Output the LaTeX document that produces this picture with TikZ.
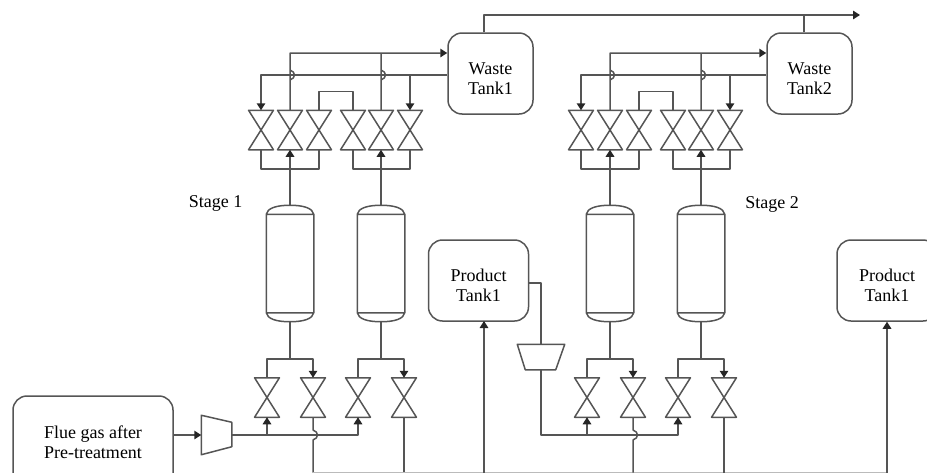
\documentclass[tikz,border=0pt]{standalone}
\usepackage{fontspec}
\setmainfont{Liberation Serif}
\usetikzlibrary{arrows.meta}
\definecolor{PipeColor}{RGB}{85,85,85}
\newcommand{\hopv}[1]{-- ([yshift=5pt]#1) .. controls ([xshift=6pt,yshift=3pt]#1) and ([xshift=6pt,yshift=-3pt]#1) .. ([yshift=-5pt]#1)}
\newcommand{\lowtext}{\rule{0pt}{22pt}}
\begin{document}
\begin{tikzpicture}[x=1pt,y=-1pt,line width=1.5pt,
pipe/.style={draw=PipeColor,line join=round},
flow/.style={pipe,-{Triangle[length=7pt,width=8.5pt,color=black!85]}},
tank/.style={draw=PipeColor,rectangle,rounded corners=14pt,align=center,inner sep=0pt,font=\fontsize{18}{20}\selectfont,text=black},
valve/.style={rectangle,inner sep=0pt,minimum width=23.4pt,minimum height=38pt},
vessel/.style={rectangle,inner sep=0pt,minimum width=46pt,minimum height=115pt},
lbl/.style={font=\fontsize{18}{20}\selectfont,text=black}]
\useasboundingbox (0,0) rectangle (927,472);
% tanks
\node[tank,minimum width=85pt,minimum height=81pt](waste1) at(490.5,73.5) {\lowtext Waste\\Tank1};
\node[tank,minimum width=85pt,minimum height=81pt](waste2) at(809.5,73.5) {\lowtext Waste\\Tank2};
\node[tank,minimum width=100pt,minimum height=81pt](prod1) at(478.5,280.5) {\lowtext Product\\Tank1};
\node[tank,minimum width=100pt,minimum height=81pt](prod2) at(887,280.5) {\lowtext Product\\Tank1};
\node[tank,minimum width=160pt,minimum height=92pt](flue) at(93,442) {Flue gas after\\Pre-treatment};
\node[lbl](stage1) at(215.5,203) {Stage 1};
\node[lbl](stage2) at(772,204) {Stage 2};
% valves
\foreach \n/\x/\y in %
{a/261/130,b/290/130,c/319/130,d/353/130,e/381/130,f/410/130,
g/581/130,h/610/130,i/639/130,j/673/130,k/701/130,l/730/130,
m/267/397.5,n/313/397.5,o/358/397.5,p/404/397.5,
q/587/397.5,r/633/397.5,s/678/397.5,t/724/397.5} {
   \node[valve](v\n) at(\x,\y) {};
   \draw[pipe] (v\n.north west) -- (v\n.south east) -- (v\n.south west) -- (v\n.north east) -- cycle;
}
% vessels
\foreach \n/\x in {1/290,2/381,3/610,4/701} {
   \node[vessel](ves\n) at(\x,263.5) {};
   \draw[pipe] ([yshift=-9pt]ves\n.north west) -- ([yshift=9pt]ves\n.south west)
      .. controls ([xshift=1pt,yshift=3pt]ves\n.south west) and ([xshift=10pt]ves\n.south west) .. (ves\n.south)
      .. controls ([xshift=-10pt]ves\n.south east) and ([xshift=-1pt,yshift=3pt]ves\n.south east) .. ([yshift=9pt]ves\n.south east)
      -- ([yshift=-9pt]ves\n.north east)
      .. controls ([xshift=-1pt,yshift=-3pt]ves\n.north east) and ([xshift=-10pt]ves\n.north east) .. (ves\n.north)
      .. controls ([xshift=10pt]ves\n.north west) and ([xshift=1pt,yshift=-3pt]ves\n.north west) .. ([yshift=-9pt]ves\n.north west)
      -- ([yshift=-9pt]ves\n.north east)
      ([yshift=9pt]ves\n.south west) -- ([yshift=9pt]ves\n.south east);
}
% compressors
\node[inner sep=0pt,minimum width=29pt,minimum height=38pt](comp1) at(216.5,435) {};
\draw[pipe] (comp1.north west) -- ([yshift=-7pt]comp1.north east) -- ([yshift=8pt]comp1.south east) -- (comp1.south west) -- cycle;
\node[inner sep=0pt,minimum width=46pt,minimum height=24pt](comp2) at(541,357) {};
\draw[pipe] (comp2.north west) -- (comp2.north east) -- ([xshift=-9pt]comp2.south east) -- ([xshift=8pt]comp2.south west) -- cycle;
% long lines
\coordinate (topstart) at (484,15);
\coordinate (topend) at (860,15);
\coordinate (bot) at (313,472.7);
\coordinate (botend) at (887,472.7);
\draw[flow] (waste1.north -| topstart) -- (topstart) -- (topend);
\draw[pipe] (waste2.north -| 804,0) -- (804,15);
% waste pipes
\foreach \w/\va/\vb/\vc/\vd/\ve/\vf/\sa/\sb in {waste1/a/b/c/d/e/f/1/2,waste2/g/h/i/j/k/l/3/4} {
   \coordinate (in\w) at (\w.west |- 0,53);
   \coordinate (out\w) at (\w.west |- 0,75);
   \coordinate (hopa\w) at (v\vb.north |- out\w);
   \coordinate (hopb\w) at (v\ve.north |- out\w);
   \draw[flow] (v\vb.north) \hopv{hopa\w} -- (v\vb.north |- in\w) -- (in\w);
   \draw[pipe] (v\ve.north) \hopv{hopb\w} -- (v\ve.north |- in\w);
   \draw[flow] (out\w) -- (v\va.north |- out\w) -- (v\va.north);
   \draw[flow] (v\vf.north |- out\w) -- (v\vf.north);
   \draw[pipe] (v\vc.north) -- ++(0,-19) -| (v\vd.north);
   \draw[pipe] (v\va.south) -- ++(0,19) -| (v\vc.south);
   \draw[pipe] (v\vd.south) -- ++(0,19) -| (v\vf.south);
   \draw[flow] (ves\sa.north) -- (v\vb.south);
   \draw[flow] (ves\sb.north) -- (v\ve.south);
}
% lower valves to vessels
\foreach \s/\va/\vb in {1/m/n,2/o/p,3/q/r,4/s/t} {
   \coordinate (split\s) at (ves\s.south |- 0,359);
   \draw[pipe] (ves\s.south) -- (split\s);
   \draw[pipe] (split\s) -| (v\va.north);
   \draw[flow] (split\s) -| (v\vb.north);
}
% feed lines
\coordinate (feedm) at (vm.south |- 0,435);
\coordinate (feedq) at (vq.south |- 0,435);
\coordinate (hopn) at (vn.south |- 0,435);
\coordinate (hopr) at (vr.south |- 0,435);
\coordinate (prodin) at (484,321);
\draw[flow] (flue.east |- 0,435) -- (comp1.west);
\draw[flow] (comp1.east) -- (feedm) -- (vo.south |- 0,435) -- (vo.south);
\draw[flow] (feedm) -- (vm.south);
\draw[pipe] (vn.south) \hopv{hopn} -- (bot);
\draw[pipe] (vp.south) -- (vp.south |- bot);
\draw[pipe,draw=PipeColor!40] (bot) -- (botend);
\draw[flow] (botend) -- (prod2.south);
\draw[flow] (prodin |- bot) -- (prodin);
\draw[pipe] (prod1.east |- 0,283) -| (comp2.north);
\draw[flow] (comp2.south) |- (vs.south |- 0,435) -- (vs.south);
\draw[flow] (feedq) -- (vq.south);
\draw[pipe] (vr.south) \hopv{hopr} -- (vr.south |- bot);
\draw[pipe] (vt.south) -- (vt.south |- bot);
\end{tikzpicture}
\end{document}
